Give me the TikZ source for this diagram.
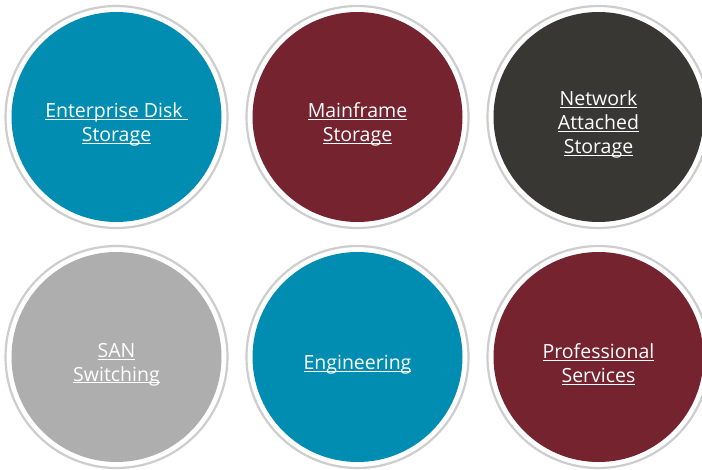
\documentclass[tikz,border=0pt]{standalone}
\usepackage{fontspec}
\setmainfont{Open Sans}
\definecolor{cteal}{HTML}{008DB1}
\definecolor{cmaroon}{HTML}{74232F}
\definecolor{cdark}{HTML}{393734}
\definecolor{cgray}{HTML}{ADAEAD}
\definecolor{cring}{HTML}{CDCDCD}
\newcommand\myul[1]{\setbox0\hbox{#1}\rlap{\rule[-2.2pt]{\wd0}{1pt}}\box0}
\tikzset{
  ring/.style={circle, draw=cring, line width=2.2pt, fill=white, minimum size=222pt, inner sep=0pt},
  disc/.style={circle, fill=#1, minimum size=210pt, inner sep=0pt},
  lbl/.style={text=white, align=center, font=\fontsize{19.5}{23.8}\selectfont, yshift=-7.5pt}
}
\begin{document}
\begin{tikzpicture}[x=1pt,y=-1pt]
\useasboundingbox[fill=white] (0,0) rectangle (702,469);
\foreach \n/\cx/\cy/\col in {a/116.5/117/cteal, b/357.5/117/cmaroon, c/598.5/117/cdark, d/116.5/357/cgray, e/357.5/357/cteal, f/598.5/357/cmaroon}{
  \node[ring] (r\n) at (\cx,\cy) {};
  \node[disc=\col] (\n) at (\cx,\cy) {};
}
\node[lbl] (ta) at (a) {\myul{Enterprise Disk\ }\\\myul{Storage}};
\node[lbl] (tb) at (b) {\myul{Mainframe}\\\myul{Storage}};
\node[lbl] (tc) at (c) {\myul{Network}\\\myul{Attached}\\\myul{Storage}};
\node[lbl] (td) at (d) {\myul{SAN}\\\myul{Switching}};
\node[lbl] (te) at (e) {\myul{Engineering}};
\node[lbl] (tf) at (f) {\myul{Professional}\\\myul{Services}};
\end{tikzpicture}
\end{document}
